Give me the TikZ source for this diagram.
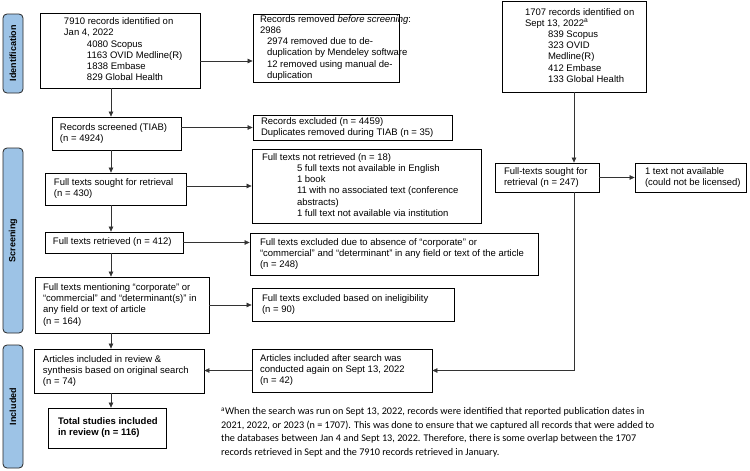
\documentclass[tikz,border=0pt]{standalone}
\usepackage{fontspec}
\setmainfont{Liberation Sans}
\newfontfamily\fnfont{Carlito}
\usetikzlibrary{arrows.meta}
\definecolor{sideblue}{RGB}{157,195,230}
\newcommand{\bxt}[3]{\makebox[#1pt][l]{\hspace*{#2pt}\begin{tabular}{@{}l@{}}#3\end{tabular}}}
\newcommand{\ind}[1]{\hspace*{#1pt}}
\begin{document}
\begin{tikzpicture}[x=1pt,y=-1pt,
  box/.style={draw=black, line width=0.8pt, inner sep=0pt, font=\fontsize{9.5}{11.2}\selectfont, anchor=center},
  side/.style={draw=black!85, line width=0.8pt, fill=sideblue, rounded corners=4pt, rotate=90, minimum height=20pt, inner sep=0pt, font=\fontsize{9}{10}\selectfont\bfseries},
  arr/.style={draw=black!80, line width=0.6pt, -{Triangle[length=5pt,width=4.5pt]}},
  ln/.style={draw=black!80, line width=0.6pt}]
\useasboundingbox (0,0) rectangle (750,471);

% side labels
\node[side, minimum width=79pt] (sid) at (13,53.5) {Identification};
\node[side, minimum width=185pt] (sscr) at (13,240.5) {Screening};
\node[side, minimum width=123pt] (sinc) at (13,406.5) {Included};

% boxes
\node[box, minimum width=160pt, minimum height=75pt] (b1) at (120,50.5)
  {\bxt{160}{24}{7910 records identified on\\ Jan 4, 2022\\ \ind{23}4080 Scopus\\ \ind{23}1163 OVID Medline(R)\\ \ind{23}1838 Embase\\ \ind{23}829 Global Health}};
\node[box, minimum width=146pt, minimum height=68pt] (rem) at (326,48)
  {\bxt{146}{7}{Records removed \textit{before screening}:\\ 2986\\ \ind{7}2974 removed due to de-\\ \ind{7}duplication by Mendeley software\\ \ind{7}12 removed using manual de-\\ \ind{7}duplication}};
\node[box, minimum width=144pt, minimum height=91pt] (b2) at (574,46.5)
  {\bxt{144}{23}{1707 records identified on\\ Sept 13, 2022\textsuperscript{a}\\ \ind{23}839 Scopus\\ \ind{23}323 OVID\\ \ind{23}Medline(R)\\ \ind{23}412 Embase\\ \ind{23}133 Global Health}};
\node[box, minimum width=129pt, minimum height=33pt] (scr) at (116.5,133.5)
  {\bxt{129}{8}{Records screened (TIAB)\\ (n = 4924)}};
\node[box, minimum width=199pt, minimum height=25pt] (exc) at (352.5,127.5)
  {\bxt{199}{8}{Records excluded (n = 4459)\\ Duplicates removed during TIAB (n = 35)}};
\node[box, minimum width=141pt, minimum height=32pt] (s430) at (115.5,189)
  {\bxt{141}{9}{Full texts sought for retrieval\\ (n = 430)}};
\node[box, minimum width=229pt, minimum height=74pt] (nr) at (366.5,186)
  {\bxt{229}{10}{Full texts not retrieved (n = 18)\\ \ind{35}5 full texts not available in English\\ \ind{35}1 book\\ \ind{35}11 with no associated text (conference\\ \ind{35}abstracts)\\ \ind{35}1 full text not available via institution}};
\node[box, minimum width=138pt, minimum height=21pt] (r412) at (114,242.5)
  {\bxt{138}{8}{Full texts retrieved (n = 412)}};
\node[box, minimum width=288pt, minimum height=42pt] (e248) at (394,254)
  {\bxt{288}{10}{Full texts excluded due to absence of “corporate” or\\ “commercial” and “determinant” in any field or text of the article\\ (n = 248)}};
\node[box, minimum width=174pt, minimum height=56pt] (m164) at (122,305)
  {\bxt{174}{8}{Full texts mentioning “corporate” or\\ “commercial” and “determinant(s)” in\\ any field or text of article\\ (n = 164)}};
\node[box, minimum width=202pt, minimum height=33pt] (in90) at (353,304.5)
  {\bxt{202}{10}{Full texts excluded based on ineligibility\\ (n = 90)}};
\node[box, minimum width=170pt, minimum height=44pt] (i74) at (119,371)
  {\bxt{170}{9}{Articles included in review \&\\ synthesis based on original search\\ (n = 74)}};
\node[box, minimum width=180pt, minimum height=43pt] (a42) at (342,370.5)
  {\bxt{180}{8}{Articles included after search was\\ conducted again on Sept 13, 2022\\ (n = 42)}};
\node[box, minimum width=118pt, minimum height=40pt] (t116) at (107,428)
  {\bxt{118}{10}{\bfseries Total studies included\\ \bfseries in review (n = 116)}};
\node[box, minimum width=104pt, minimum height=29pt] (s247) at (547,177.5)
  {\bxt{104}{9}{Full-texts sought for\\ retrieval (n = 247)}};
\node[box, minimum width=111pt, minimum height=29pt] (na1) at (690.5,177.5)
  {\bxt{111}{10}{1 text not available\\ (could not be licensed)}};

% footnote
\node[anchor=north west, inner sep=0pt, align=left, font=\fnfont\fontsize{10.2}{13.4}\selectfont] (fn) at (221,407.5)
  {\textsuperscript{a}When the search was run on Sept 13, 2022, records were identified that reported publication dates in\\
   2021, 2022, or 2023 (n = 1707). This was done to ensure that we captured all records that were added to\\
   the databases between Jan 4 and Sept 13, 2022. Therefore, there is some overlap between the 1707\\
   records retrieved in Sept and the 7910 records retrieved in January.};

% connectors
\coordinate (sp) at (111,0);
\coordinate (r1) at (0,61);
\draw[arr] (b1.south -| sp) -- (scr.north -| sp);
\draw[arr] (scr.south -| sp) -- (s430.north -| sp);
\draw[arr] (s430.south -| sp) -- (r412.north -| sp);
\draw[arr] (r412.south -| sp) -- (m164.north -| sp);
\draw[arr] (m164.south -| sp) -- (i74.north -| sp);
\draw[arr] (i74.south -| sp) -- (t116.north -| sp);
\draw[arr] (b1.east |- r1) -- (rem.west |- r1);
\draw[arr] (scr.east |- exc.west) -- (exc.west);
\draw[arr] (s430.east |- nr.west) -- (nr.west);
\draw[arr] (r412.east) -- (r412.east -| e248.west);
\draw[arr] (m164.east) -- (m164.east -| in90.west);
\draw[arr] (a42.west) -- (a42.west -| i74.east);
\draw[arr] (b2.south) -- (b2.south |- s247.north);
\draw[arr] (s247.east) -- (s247.east -| na1.west);
\draw[arr] (s247.south -| b2.south) |- (a42.east);
\end{tikzpicture}
\end{document}
